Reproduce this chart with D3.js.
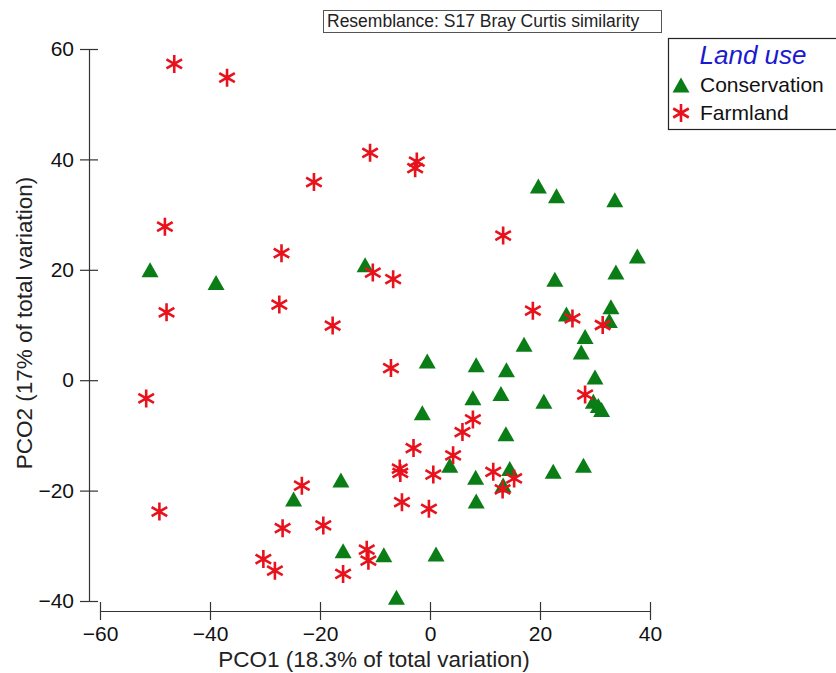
<!DOCTYPE html>
<html>
<head>
<meta charset="utf-8">
<script src="https://cdn.jsdelivr.net/npm/d3@7"></script>
<style>
  body { margin: 0; background: #fff; }
  svg { display: block; font-family: "Liberation Sans", Arial, sans-serif; }
</style>
</head>
<body>
<div id="chart"></div>
<script>
// PCO scores
const conservationPco1 = [-50.9, -38.9, -11.8, 19.7, 23.0, 33.6, 37.7, 33.8, 22.7, 32.9,
  24.8, 32.6, 17.1, 28.2, 27.5, -0.5, 8.4, 13.9, 30.0, 7.8,
  12.9, 20.7, 29.7, 30.6, 31.2, -1.4, 13.8, 3.6, 8.3, 14.5,
  13.3, 22.4, 27.9, 8.4, -16.2, -24.8, -15.8, -8.4, 1.1, -6.1];
const conservationPco2 = [20.0, 17.7, 20.9, 35.2, 33.4, 32.7, 22.5, 19.6, 18.3, 13.3,
  12.0, 10.8, 6.5, 7.9, 5.1, 3.5, 2.8, 1.9, 0.6, -3.2,
  -2.4, -3.8, -3.8, -4.6, -5.3, -5.9, -9.7, -15.4, -17.6, -16.0,
  -19.0, -16.5, -15.4, -21.9, -18.1, -21.5, -30.9, -31.6, -31.5, -39.3];

const farmlandPco1 = [-46.5, -36.9, -10.9, -2.4, -2.7, -21.1, -48.2, 13.3, -27.0, -10.4,
  -6.7, -27.4, -47.9, -17.7, -7.1, -51.6, 18.7, 25.9, 31.4, 28.2,
  7.8, 5.9, -3.0, 4.2, -5.5, -5.4, 0.6, 11.5, 15.3, 13.2,
  -5.1, -0.2, -23.3, -49.2, -26.8, -19.4, -30.3, -28.2, -11.5, -11.2, -15.8];
const farmlandPco2 = [57.3, 54.8, 41.2, 39.6, 38.4, 35.9, 27.8, 26.2, 23.0, 19.5,
  18.3, 13.7, 12.3, 9.9, 2.2, -3.3, 12.6, 11.2, 10.0, -2.6,
  -7.1, -9.4, -12.3, -13.6, -16.0, -16.8, -17.1, -16.6, -17.8, -19.8,
  -22.1, -23.3, -19.1, -23.8, -26.8, -26.3, -32.4, -34.5, -30.7, -32.7, -35.1];

const xTicks = [-60, -40, -20, 0, 20, 40];
const yTicks = [-40, -20, 0, 20, 40, 60];

const green = "#0b7d16";
const red = "#e8121c";

const width = 836, height = 673;

const svg = d3.select("#chart")
  .append("svg")
  .attr("width", width)
  .attr("height", height);

const x = d3.scaleLinear().domain([-60, 40]).range([100, 650]);
const y = d3.scaleLinear().domain([-40, 60]).range([601, 49]);

// axes: offset PRIMER style, ticks crossing the line
const xAxis = svg.append("g")
  .attr("transform", "translate(0,611)")
  .call(d3.axisBottom(x).tickValues(xTicks).tickSize(9).tickSizeOuter(0).tickPadding(6));
xAxis.selectAll(".tick line").attr("y1", -9);

const yAxis = svg.append("g")
  .attr("transform", "translate(89,0)")
  .call(d3.axisLeft(y).tickValues(yTicks).tickSize(9).tickSizeOuter(0).tickPadding(6));
yAxis.selectAll(".tick line").attr("x1", 9);

svg.selectAll(".domain, .tick line").attr("stroke", "#333").attr("stroke-width", 1.2);
svg.selectAll(".tick text")
  .attr("fill", "#111")
  .style("font-size", "21px")
  .style("font-family", "'Liberation Sans', Arial, sans-serif");

svg.append("text")
  .attr("x", 374)
  .attr("y", 667)
  .attr("text-anchor", "middle")
  .style("font-size", "22.5px")
  .attr("fill", "#222")
  .text("PCO1 (18.3% of total variation)");

svg.append("text")
  .attr("transform", "translate(32,323) rotate(-90)")
  .attr("text-anchor", "middle")
  .style("font-size", "22.5px")
  .attr("fill", "#222")
  .text("PCO2 (17% of total variation)");

// markers
const triangle = "M0,-7.5L8.5,7.5L-8.5,7.5Z";
const asterisk = d3.range(3).map(i => {
  const a = Math.PI / 2 + i * Math.PI / 3;
  const r = 9;
  return `M${(r * Math.cos(a)).toFixed(2)},${(-r * Math.sin(a)).toFixed(2)}L${(-r * Math.cos(a)).toFixed(2)},${(r * Math.sin(a)).toFixed(2)}`;
}).join("");

const conservation = conservationPco1.map((v, i) => ({ x: v, y: conservationPco2[i] }));
const farmland = farmlandPco1.map((v, i) => ({ x: v, y: farmlandPco2[i] }));

svg.append("g").selectAll("path")
  .data(conservation)
  .enter().append("path")
  .attr("d", triangle)
  .attr("transform", d => `translate(${x(d.x)},${y(d.y)})`)
  .attr("fill", green);

svg.append("g").selectAll("path")
  .data(farmland)
  .enter().append("path")
  .attr("d", asterisk)
  .attr("transform", d => `translate(${x(d.x)},${y(d.y)})`)
  .attr("fill", "none")
  .attr("stroke", red)
  .attr("stroke-width", 2.6);

// resemblance box
svg.append("rect")
  .attr("x", 323.5)
  .attr("y", 10.5)
  .attr("width", 338)
  .attr("height", 22)
  .attr("fill", "#fff")
  .attr("stroke", "#555");

svg.append("text")
  .attr("x", 327)
  .attr("y", 27)
  .style("font-size", "17.5px")
  .attr("fill", "#222")
  .text("Resemblance: S17 Bray Curtis similarity");

// legend
const legend = svg.append("g");
legend.append("rect")
  .attr("x", 668.5)
  .attr("y", 38.5)
  .attr("width", 200)
  .attr("height", 91)
  .attr("fill", "#fff")
  .attr("stroke", "#222")
  .attr("stroke-width", 1.2);

legend.append("text")
  .attr("x", 753)
  .attr("y", 64)
  .attr("text-anchor", "middle")
  .style("font-size", "26px")
  .style("font-style", "italic")
  .attr("fill", "#1a1ad0")
  .text("Land use");

legend.append("path")
  .attr("d", triangle)
  .attr("transform", "translate(681,85)")
  .attr("fill", green);
legend.append("text")
  .attr("x", 700)
  .attr("y", 92)
  .style("font-size", "21px")
  .attr("fill", "#111")
  .text("Conservation");

legend.append("path")
  .attr("d", asterisk)
  .attr("transform", "translate(681,113)")
  .attr("fill", "none")
  .attr("stroke", red)
  .attr("stroke-width", 2.6);
legend.append("text")
  .attr("x", 700)
  .attr("y", 120)
  .style("font-size", "21px")
  .attr("fill", "#111")
  .text("Farmland");
</script>
</body>
</html>
